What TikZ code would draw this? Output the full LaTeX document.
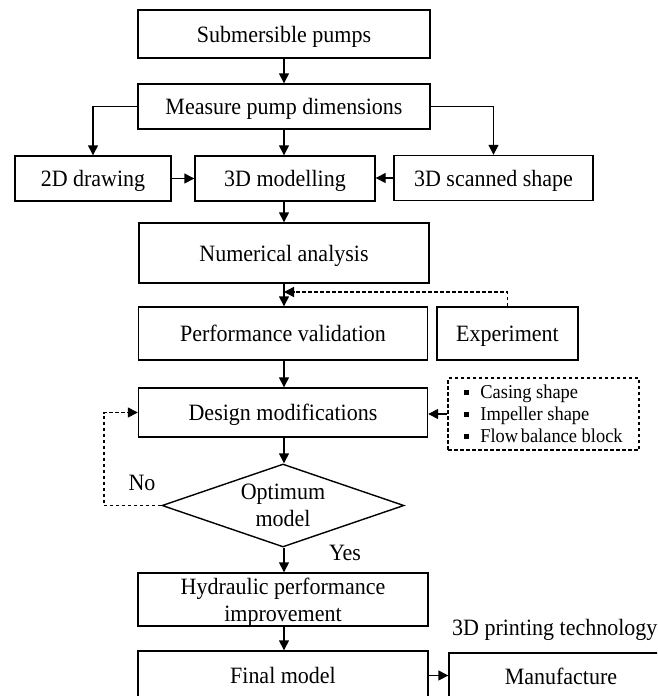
\documentclass[tikz,border=0pt]{standalone}
\usepackage{fontspec}
\setmainfont{Liberation Serif}[FakeStretch=0.94]
\usetikzlibrary{shapes.geometric,arrows.meta}
\begin{document}
\begin{tikzpicture}[x=1pt,y=-1pt,
  box/.style={draw,line width=1.4pt,inner sep=0pt,align=center,text depth=0pt,font=\fontsize{23.4}{27}\selectfont},
  arr/.style={line width=1.4pt,-{Triangle[length=10pt,width=10pt]}},
  darr/.style={arr,dash pattern=on 3.5pt off 2.5pt},
  lbl/.style={inner sep=0pt,font=\fontsize{23.4}{27}\selectfont}]
\useasboundingbox (0,0) rectangle (657,696);
\clip (0,0) rectangle (657,696);
\node[box,minimum width=292pt,minimum height=48pt] (sub) at (284,34) {Submersible pumps};
\node[box,minimum width=292pt,minimum height=45pt] (meas) at (284,106.5) {Measure pump dimensions};
\node[box,minimum width=156pt,minimum height=45pt] (d2) at (93,178.5) {2D drawing};
\node[box,minimum width=180pt,minimum height=45pt] (d3) at (285,178.5) {3D modelling};
\node[box,minimum width=199pt,minimum height=45pt] (scan) at (493.5,178) {3D scanned shape};
\node[box,minimum width=290pt,minimum height=60pt] (num) at (284,253) {Numerical analysis};
\node[box,minimum width=289pt,minimum height=53pt] (perf) at (283,333.5) {Performance validation};
\node[box,minimum width=141pt,minimum height=53pt] (exp) at (507.5,333.5) {Experiment};
\node[box,dash pattern=on 3.5pt off 2.5pt,minimum width=191pt,minimum height=72pt,align=left,
      font=\fontsize{19.6}{22}\selectfont] (list) at (543.5,414)
  {\rule[4pt]{5pt}{5pt}\hspace{11pt}Casing shape\\
   \rule[4pt]{5pt}{5pt}\hspace{11pt}Impeller shape\\
   \rule[4pt]{5pt}{5pt}\hspace{11pt}Flow\hspace{-2pt} balance block};
\node[box,minimum width=289pt,minimum height=49pt] (design) at (283,412.5) {Design modifications};
\node[box,diamond,aspect=2.9,minimum width=242pt,minimum height=83pt] (dia) at (283,505.5) {Optimum\\model};
\node[box,minimum width=290pt,minimum height=53pt] (hyd) at (283,599.5) {Hydraulic performance\\improvement};
\node[box,minimum width=290pt,minimum height=49pt] (final) at (283,675.5) {Final model};
\node[box,minimum width=224pt,minimum height=46pt] (manu) at (561,676) {Manufacture};
\node[lbl] (no) at (142,483) {No};
\node[lbl] (yes) at (345,553) {Yes};
\node[lbl,anchor=west] (tech) at (452,630) {3D printing technology};
\coordinate (j) at (284,292);
\draw[arr] (sub.south) -- (sub.south |- meas.north);
\draw[arr] (meas.west) -| (d2.north);
\draw[arr] (meas.east) -| (scan.north);
\draw[arr] (meas.south) -- (meas.south |- d3.north);
\draw[arr] (d2.east) -- (d2.east -| d3.west);
\draw[arr] (scan.west) -- (scan.west -| d3.east);
\draw[arr] (num.south |- d3.south) -- (num.north);
\draw[arr] (num.south) -- (num.south |- perf.north);
\draw[darr] (exp.north) |- (j);
\draw[arr] (num.south |- perf.south) -- (num.south |- design.north);
\draw[arr] (list.west) -- (list.west -| design.east);
\draw[arr] (num.south |- design.south) -- (num.south |- dia.north);
\draw[darr] (dia.west) -| ([xshift=-34pt]design.west) -- (design.west);
\draw[arr] (num.south |- dia.south) -- (num.south |- hyd.north);
\draw[arr] (num.south |- hyd.south) -- (num.south |- final.north);
\draw[arr] (final.east) -- (final.east -| manu.west);
\end{tikzpicture}
\end{document}
